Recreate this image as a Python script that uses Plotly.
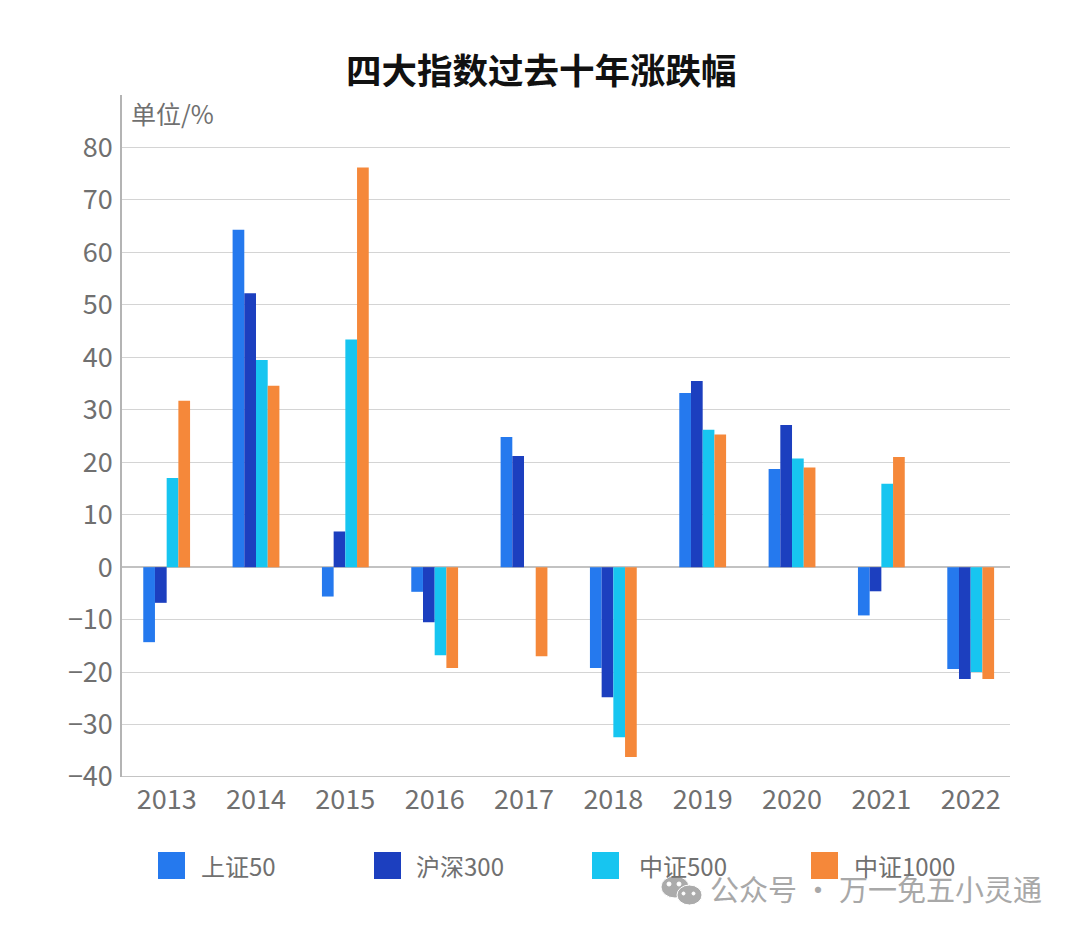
import plotly.graph_objects as go

years = ["2013", "2014", "2015", "2016", "2017", "2018", "2019", "2020", "2021", "2022"]
sz50 = [-14.3, 64.3, -5.6, -4.7, 24.8, -19.2, 33.2, 18.7, -9.2, -19.4]
hs300 = [-6.8, 52.2, 6.8, -10.5, 21.2, -24.8, 35.5, 27.1, -4.6, -21.3]
zz500 = [17.0, 39.5, 43.4, -16.8, 0, -32.4, 26.2, 20.7, 15.9, -20.0]
zz1000 = [31.7, 34.6, 76.2, -19.2, -17.0, -36.2, 25.3, 19.0, 21.0, -21.3]

names = ["上证50", "沪深300", "中证500", "中证1000"]
colors = ["#2579ee", "#1c3fbf", "#17c5f0", "#f5883a"]
ticks = list(range(-40, 90, 10))

FONT = "Noto Sans CJK SC"
GREY = "#707070"
# the page adds an 8px body margin, so the figure is 16px smaller than the window
W, H = 1064, 917
LEFT, RIGHT, TOP, BOTTOM = 122, 1010, 95, 777


def px(x):
    return (x - LEFT) / (RIGHT - LEFT)


def py(y):
    return (BOTTOM - y) / (BOTTOM - TOP)


fig = go.Figure()
for name, vals, color in zip(names, [sz50, hs300, zz500, zz1000], colors):
    fig.add_trace(go.Bar(x=years, y=vals, name=name, marker=dict(color=color, line_width=0)))

fig.update_xaxes(
    type="category",
    range=[-0.5, 9.44],
    showgrid=False,
    zeroline=False,
    showline=False,
    ticks="",
    tickfont=dict(size=27, color=GREY, family=FONT),
    ticklabelstandoff=4,
)
fig.update_yaxes(
    range=[-40, 90],
    tickvals=ticks,
    showgrid=True,
    gridcolor="#d4d4d4",
    gridwidth=1,
    zeroline=True,
    zerolinecolor="#c2c2c2",
    zerolinewidth=1.5,
    showline=True,
    linecolor="#b4b4b4",
    linewidth=1.5,
    ticks="",
    tickfont=dict(size=27, color=GREY, family=FONT),
    ticklabelstandoff=2,
)

# bottom axis line, legend swatches and wechat mark sit outside the traces
shapes = [dict(type="line", xref="paper", yref="y", x0=0, x1=1, y0=-40, y1=-40,
               line=dict(color="#c4c4c4", width=2))]
annotations = [
    dict(text="单位/%", xref="paper", yref="paper", x=px(129), y=py(113), yanchor="middle",
         xanchor="left", showarrow=False, font=dict(size=25, color=GREY, family=FONT)),
    dict(text="<b>四大指数过去十年涨跌幅</b>", xref="paper", yref="paper", x=px(541), y=py(68),
         yanchor="middle", xanchor="center", showarrow=False,
         font=dict(size=35.5, color="#111111", family=FONT)),
]
legend_x = [158, 374, 592, 811]
label_x = [199, 414, 637, 852]
for lx, tx, name, color in zip(legend_x, label_x, names, colors):
    shapes.append(dict(type="rect", xref="paper", yref="paper", x0=px(lx), x1=px(lx + 27),
                       y0=py(879), y1=py(852), fillcolor=color, line_width=0))
    annotations.append(dict(text=name, xref="paper", yref="paper", x=px(tx), y=py(866),
                            yanchor="middle", xanchor="left", showarrow=False,
                            font=dict(size=24, color=GREY, family=FONT)))
annotations.append(dict(text="公众号 · 万一免五小灵通", xref="paper", yref="paper", x=px(708), y=py(888),
                        yanchor="middle", xanchor="left", showarrow=False,
                        font=dict(size=29, color="#a8a8a8", family=FONT)))
for x0, y0, x1, y1, fill in [
    (661, 876, 689, 898, "#ababab"),
    (677, 885, 702, 905, "#ababab"),
    (667, 882, 671, 886, "white"),
    (677, 882, 681, 886, "white"),
    (682, 892, 685, 895, "white"),
    (692, 892, 695, 895, "white"),
]:
    shapes.append(dict(type="circle", xref="paper", yref="paper", x0=px(x0), x1=px(x1),
                       y0=py(y1), y1=py(y0), fillcolor=fill, line=dict(color="white", width=1)))

fig.update_layout(
    width=W,
    height=H,
    barmode="group",
    bargap=0.476,
    bargroupgap=0,
    showlegend=False,
    plot_bgcolor="white",
    paper_bgcolor="white",
    margin=dict(l=LEFT - 8, r=W - (RIGHT - 8), t=TOP - 8, b=H - (BOTTOM - 8), autoexpand=False),
    shapes=shapes,
    annotations=annotations,
)
fig.write_html("out.html")
